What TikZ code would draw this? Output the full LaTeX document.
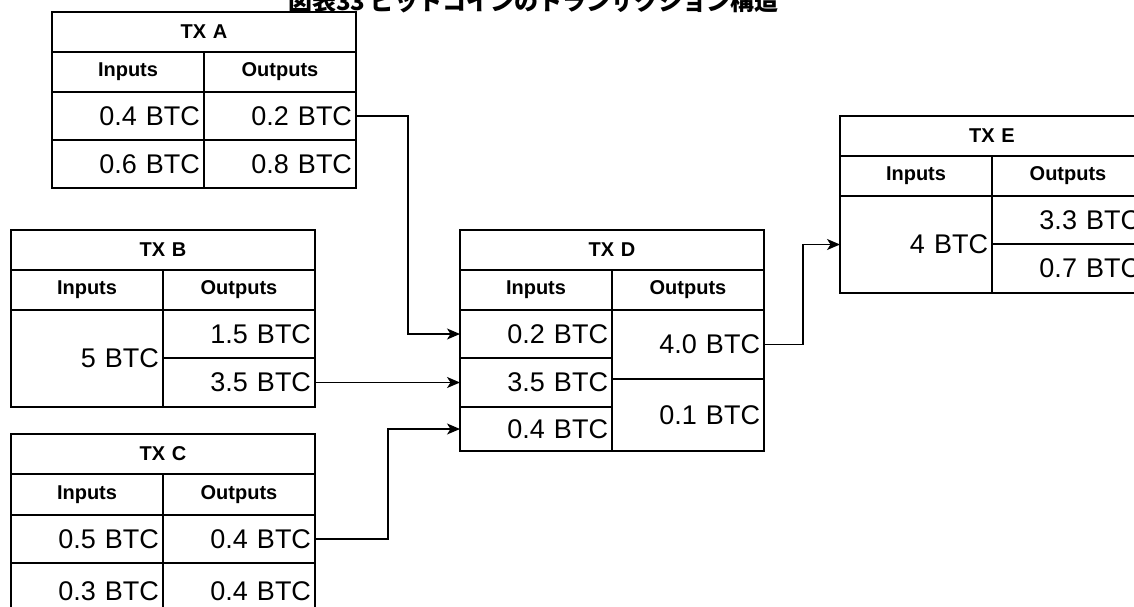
\documentclass[tikz,border=0pt]{standalone}
\usepackage{fontspec}
\setmainfont{Liberation Sans}
\newfontfamily\cjkfont{Noto Sans CJK JP}
\usetikzlibrary{arrows.meta}

\tikzset{
  txbox/.style={draw, line width=1.4pt, anchor=north west, inner ysep=0pt,
                inner xsep=4pt, outer sep=0pt},
  txhead/.style={txbox, minimum width=304pt, text width=296pt, align=center,
                 font=\bfseries\fontsize{20}{24}\selectfont},
  txcol/.style={txbox, minimum width=152pt, text width=144pt, align=center,
                font=\bfseries\fontsize{20}{24}\selectfont},
  txval/.style={txbox, minimum width=152pt, text width=144pt, align=right,
                font=\fontsize{27}{30}\selectfont},
  flow/.style={line width=1.4pt, -{Stealth[length=13pt,width=11pt,inset=3.5pt]}},
  titletext/.style={font=\cjkfont\bfseries\fontsize{24}{28}\selectfont,
                    anchor=base west, inner sep=0pt},
}

\begin{document}
\begin{tikzpicture}[x=1pt, y=-1pt]
\useasboundingbox (0,0) rectangle (1134,606);
\clip (0,0) rectangle (1134,606);
\fill[white] (0,0) rectangle (1134,606);

% title
\node[titletext] (title) at (288,10) {図表33 ビットコインのトランザクション構造};

% TX A
\node[txhead, minimum height=40pt] (A-h)  at (52,12)  {TX A};
\node[txcol,  minimum height=40pt] (A-ci) at (52,52)  {Inputs};
\node[txcol,  minimum height=40pt] (A-co) at (204,52) {Outputs};
\node[txval,  minimum height=48pt] (A-i1) at (52,92)  {0.4 BTC};
\node[txval,  minimum height=48pt] (A-o1) at (204,92) {0.2 BTC};
\node[txval,  minimum height=48pt] (A-i2) at (52,140) {0.6 BTC};
\node[txval,  minimum height=48pt] (A-o2) at (204,140) {0.8 BTC};

% TX B
\node[txhead, minimum height=40pt] (B-h)  at (11,230)  {TX B};
\node[txcol,  minimum height=40pt] (B-ci) at (11,270)  {Inputs};
\node[txcol,  minimum height=40pt] (B-co) at (163,270) {Outputs};
\node[txval,  minimum height=97pt] (B-i1) at (11,310)  {5 BTC};
\node[txval,  minimum height=48pt] (B-o1) at (163,310) {1.5 BTC};
\node[txval,  minimum height=49pt] (B-o2) at (163,358) {3.5 BTC};

% TX C
\node[txhead, minimum height=40pt] (C-h)  at (11,434)  {TX C};
\node[txcol,  minimum height=41pt] (C-ci) at (11,474)  {Inputs};
\node[txcol,  minimum height=41pt] (C-co) at (163,474) {Outputs};
\node[txval,  minimum height=48pt] (C-i1) at (11,515)  {0.5 BTC};
\node[txval,  minimum height=48pt] (C-o1) at (163,515) {0.4 BTC};
\node[txval,  minimum height=57pt] (C-i2) at (11,563)  {0.3 BTC};
\node[txval,  minimum height=57pt] (C-o2) at (163,563) {0.4 BTC};

% TX D
\node[txhead, minimum height=40pt] (D-h)  at (460,230) {TX D};
\node[txcol,  minimum height=40pt] (D-ci) at (460,270) {Inputs};
\node[txcol,  minimum height=40pt] (D-co) at (612,270) {Outputs};
\node[txval,  minimum height=48pt] (D-i1) at (460,310) {0.2 BTC};
\node[txval,  minimum height=49pt] (D-i2) at (460,358) {3.5 BTC};
\node[txval,  minimum height=44pt] (D-i3) at (460,407) {0.4 BTC};
\node[txval,  minimum height=69pt] (D-o1) at (612,310) {4.0 BTC};
\node[txval,  minimum height=72pt] (D-o2) at (612,379) {0.1 BTC};

% TX E
\node[txhead, minimum height=40pt] (E-h)  at (840,116) {TX E};
\node[txcol,  minimum height=40pt] (E-ci) at (840,156) {Inputs};
\node[txcol,  minimum height=40pt] (E-co) at (992,156) {Outputs};
\node[txval,  minimum height=97pt] (E-i1) at (840,196) {4 BTC};
\node[txval,  minimum height=48pt] (E-o1) at (992,196) {3.3 BTC};
\node[txval,  minimum height=49pt] (E-o2) at (992,244) {0.7 BTC};

% spending links
\draw[flow] (A-o1.east) -- ++(52,0) |- (D-i1.west);
\draw[flow] (B-o2.east) -- (D-i2.west);
\draw[flow] (C-o1.east) -- ++(73,0) |- (D-i3.west);
\draw[flow] (D-o1.east) -- ++(39,0) |- (E-i1.west);
\end{tikzpicture}
\end{document}
